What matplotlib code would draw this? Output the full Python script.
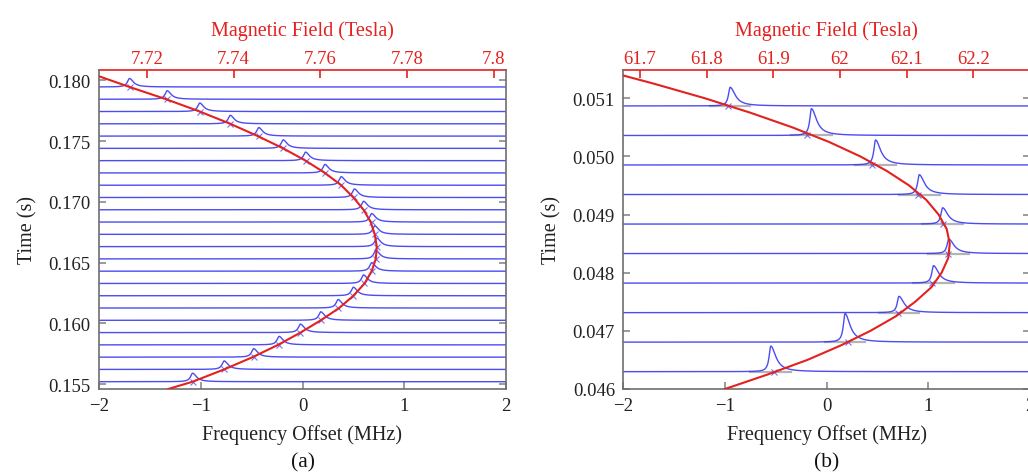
import numpy as np
import matplotlib
matplotlib.use("Agg")
import matplotlib.pyplot as plt
from matplotlib.ticker import FixedLocator, FixedFormatter

plt.rcParams['font.family'] = ['Liberation Serif', 'DejaVu Serif']

RED = '#e3211f'
BLUE = '#3838f2'
AXIS_GREY = '#6e6e6e'

# ---- panel (a): 7.7 T shot ----
times_a = [0.17945, 0.17844, 0.17743, 0.17642, 0.17541, 0.17440, 0.17339,
           0.17238, 0.17137, 0.17036, 0.16935, 0.16834, 0.16733, 0.16632,
           0.16531, 0.16430, 0.16329, 0.16228, 0.16127, 0.16026, 0.15925,
           0.15824, 0.15723, 0.15622, 0.15521]
peaks_a = [-1.70, -1.33, -1.01, -0.71, -0.43, -0.19, 0.03, 0.22, 0.38, 0.51,
           0.60, 0.68, 0.71, 0.73, 0.72, 0.68, 0.60, 0.50, 0.35, 0.18,
           -0.02, -0.23, -0.48, -0.77, -1.08]
heights_a = [0.00070, 0.00070, 0.00070, 0.00070, 0.00070, 0.00070, 0.00070,
             0.00070, 0.00070, 0.00070, 0.00070, 0.00070, 0.00070, 0.00070,
             0.00070, 0.00070, 0.00070, 0.00070, 0.00070, 0.00070, 0.00070,
             0.00070, 0.00070, 0.00070, 0.00070]
field_t_a = [0.18033, 0.17945, 0.17844, 0.17743, 0.17642, 0.17541, 0.17440,
             0.17339, 0.17238, 0.17137, 0.17036, 0.16935, 0.16834, 0.16733,
             0.16632, 0.16531, 0.16430, 0.16329, 0.16228, 0.16127, 0.16026,
             0.15925, 0.15824, 0.15723, 0.15622, 0.15521, 0.15461]
field_f_a = [-2.00, -1.70, -1.34, -1.01, -0.71, -0.44, -0.19, 0.03, 0.22,
             0.38, 0.50, 0.60, 0.67, 0.71, 0.73, 0.72, 0.68, 0.61, 0.50,
             0.36, 0.18, -0.02, -0.24, -0.49, -0.77, -1.08, -1.32]
yticks_a = [0.155, 0.160, 0.165, 0.170, 0.175, 0.180]
tesla_ticks_a = [7.72, 7.74, 7.76, 7.78, 7.80]
tesla_labels_a = ['7.72', '7.74', '7.76', '7.78', '7.8']

# ---- panel (b): 62 T shot ----
times_b = [0.050867, 0.050359, 0.049852, 0.049344, 0.048836, 0.048329,
           0.047821, 0.047313, 0.046806, 0.046298]
peaks_b = [-0.95, -0.15, 0.48, 0.91, 1.14, 1.20, 1.05, 0.71, 0.18, -0.55]
marks_b = [-0.97, -0.19, 0.45, 0.90, 1.14, 1.19, 1.04, 0.70, 0.21, -0.52]
heights_b = [0.00032, 0.00046, 0.00043, 0.00034, 0.00028, 0.00025,
             0.00030, 0.00028, 0.00049, 0.00044]
field_t_b = [0.04600, 0.04625, 0.04650, 0.04675, 0.04700, 0.04725, 0.04750,
             0.04775, 0.04800, 0.04825, 0.04850, 0.04875, 0.04900, 0.04925,
             0.04950, 0.04975, 0.05000, 0.05025, 0.05050, 0.05075, 0.05100,
             0.05125, 0.05139]
field_f_b = [-1.00, -0.58, -0.19, 0.14, 0.43, 0.68, 0.87, 1.03, 1.13, 1.195,
             1.21, 1.18, 1.10, 0.98, 0.81, 0.59, 0.33, 0.02, -0.34, -0.75,
             -1.20, -1.70, -2.00]
yticks_b = [0.046, 0.047, 0.048, 0.049, 0.050, 0.051]
tesla_ticks_b = [61.7, 61.8, 61.9, 62.0, 62.1, 62.2]
tesla_labels_b = ['61.7', '61.8', '61.9', '62', '62.1', '62.2']

freq = np.linspace(-2.0, 2.0, 2401)


def line_shape(f, center, height, w_left, w_right):
    d = f - center
    w = np.where(d < 0, w_left, w_right)
    return height / (1.0 + (d / w) ** 2)


def draw_panel(ax, times, peaks, marks, heights, field_t, field_f, widths,
               ylim, yticks, gamma, b0, tesla_ticks, tesla_labels, letter,
               grey_bases=False):
    for t, c, h in zip(times, peaks, heights):
        if grey_bases:
            ax.plot([c - 0.2, c + 0.2], [t, t], color='#b4b4b4', lw=1.6,
                    zorder=1)
        ax.plot(freq, t + line_shape(freq, c, h, *widths), color=BLUE,
                lw=1.0, alpha=0.9, zorder=2)
    ax.plot(marks, times, 'x', color=BLUE, ms=5, mew=0.8, alpha=0.7,
            zorder=3)
    ax.plot(field_f, field_t, color=RED, lw=1.5, zorder=4)

    ax.set_xlim(-2, 2)
    ax.set_ylim(*ylim)
    ax.set_xticks([-2, -1, 0, 1, 2])
    ax.set_yticks(yticks)
    ax.yaxis.set_major_formatter(plt.FormatStrFormatter('%.3f'))
    ax.tick_params(direction='in', length=5, width=1.2, color='#8a8a8a',
                   labelsize=13.5, labelcolor='#222222', right=True, pad=6)
    for side in ('left', 'bottom', 'right'):
        ax.spines[side].set_color(AXIS_GREY)
        ax.spines[side].set_linewidth(1.2)
    ax.spines['top'].set_visible(False)
    ax.set_xlabel('Frequency Offset (MHz)', fontsize=14.5, color='#222222',
                  labelpad=7)
    ax.set_ylabel('Time (s)', fontsize=14.5, color='#222222', labelpad=8)

    sec = ax.secondary_xaxis('top', functions=(lambda f: b0 + f / gamma,
                                               lambda b: (b - b0) * gamma))
    sec.xaxis.set_major_locator(FixedLocator(tesla_ticks))
    sec.xaxis.set_major_formatter(FixedFormatter(tesla_labels))
    sec.tick_params(axis='x', direction='in', length=6, width=1.2,
                    colors=RED, labelsize=13.5, pad=2)
    sec.spines['top'].set_color(RED)
    sec.spines['top'].set_linewidth(1.2)
    sec.set_xlabel('Magnetic Field (Tesla)', color=RED, fontsize=14.5,
                   labelpad=11)

    pos = ax.get_position()
    fig.text(pos.x0 + pos.width / 2, 14 / 477, letter, ha='center',
             va='center', fontsize=15.5, color='#111111')


fig = plt.figure(figsize=(10.28, 4.77), dpi=100)
ax_a = fig.add_axes([99 / 1028, 87 / 477, 407 / 1028, 319.3 / 477])
ax_b = fig.add_axes([623.3 / 1028, 87 / 477, 406.8 / 1028, 319.3 / 477])

draw_panel(ax_a, times_a, peaks_a, peaks_a, heights_a, field_t_a, field_f_a,
           (0.025, 0.045), (0.15461, 0.18087), yticks_a, 42.58, 7.7559,
           tesla_ticks_a, tesla_labels_a, '(a)')
draw_panel(ax_b, times_b, peaks_b, marks_b, heights_b, field_t_b, field_f_b,
           (0.02, 0.06), (0.0460, 0.05149), yticks_b, 6.557, 61.980,
           tesla_ticks_b, tesla_labels_b, '(b)', grey_bases=True)

fig.savefig('out.png', dpi=100)
